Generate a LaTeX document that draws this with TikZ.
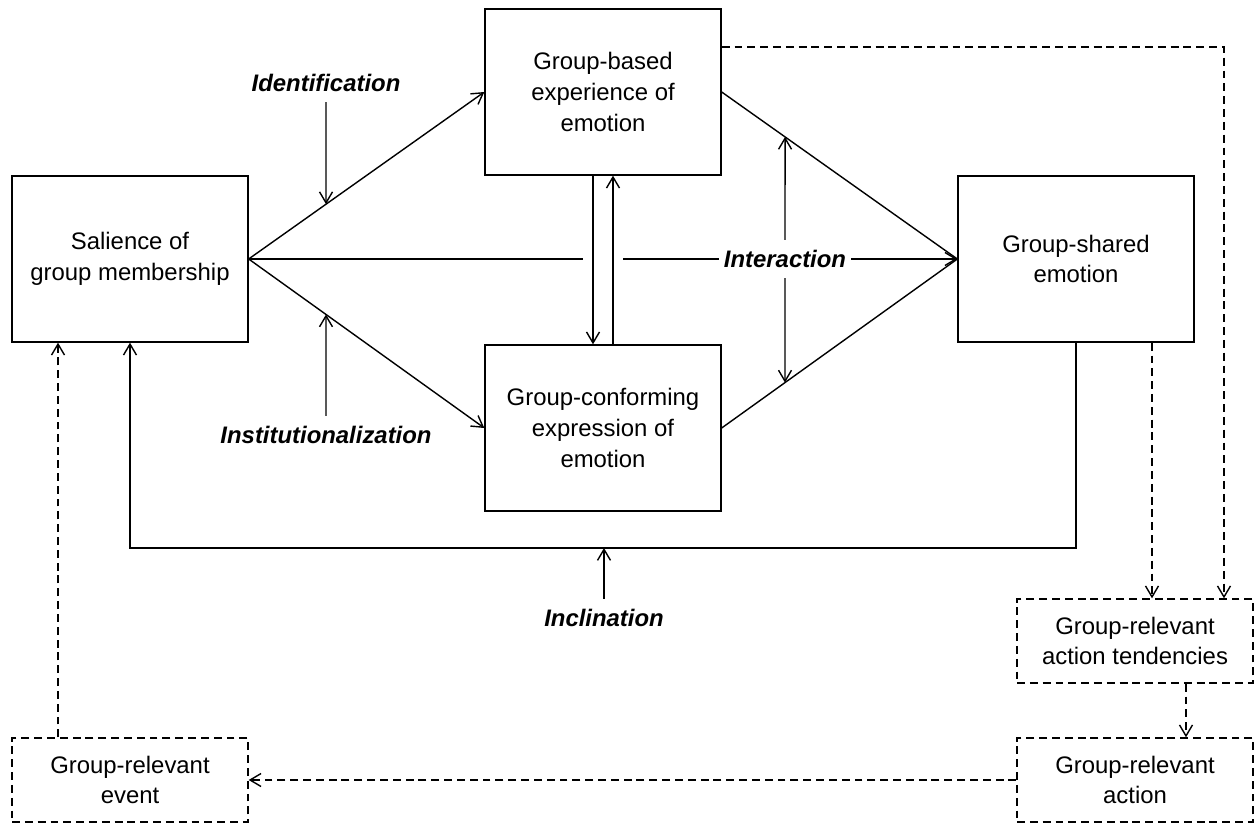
\documentclass[tikz,border=0pt]{standalone}
\usepackage{fontspec}
\setmainfont{Liberation Sans}
\usepackage{xcolor}
\usepackage{tikz}
\usetikzlibrary{calc,arrows.meta}
\definecolor{bg}{HTML}{FFFFFF}
\definecolor{ink}{HTML}{000000}
\tikzset{
  box/.style={draw=ink, line width=0.8pt, minimum width=4.72cm, minimum height=3.32cm, align=center, inner sep=0pt, font=\fontsize{13.6}{17.5}\selectfont},
  dbox/.style={draw=ink, dashed, dash pattern=on 4.5pt off 2.8pt, line width=0.8pt, minimum width=4.72cm, minimum height=1.68cm, align=center, inner sep=0pt, font=\fontsize{13.6}{17.5}\selectfont},
  lab/.style={text=ink, font=\fontsize{13.6}{17}\selectfont\bfseries\itshape, inner xsep=0.1cm, inner ysep=0.2cm},
  arr/.style={draw=ink, line width=0.8pt, -{Straight Barb[length=2.2mm,width=2.6mm]}},
  ln/.style={draw=ink, line width=0.8pt},
  darr/.style={draw=ink, line width=0.8pt, dash pattern=on 4.5pt off 2.8pt, -{Straight Barb[length=2.2mm,width=2.6mm]}},
}
\begin{document}
\begin{tikzpicture}[x=0.02cm, y=-0.02cm]
  \useasboundingbox[fill=bg] (0,0) rectangle (1257,824);

  % main boxes
  \node[box] (sal) at (130,259) {Salience of\\group membership};
  \node[box] (gb)  at (603,92)  {Group-based\\experience of\\emotion};
  \node[box] (gc)  at (603,428) {Group-conforming\\expression of\\emotion};
  \node[box] (gs)  at (1076,259) {Group-shared\\emotion};

  % dashed boxes
  \node[dbox] (tnd) at (1135,641) {Group-relevant\\action tendencies};
  \node[dbox] (act) at (1135,780) {Group-relevant\\action};
  \node[dbox] (ev)  at (130,780)  {Group-relevant\\event};

  % moderators
  \node[lab] (idlab) at (326,83)  {Identification};
  \node[lab] (inlab) at (326,435) {Institutionalization};
  \node[lab] (inter) at (785,259) {Interaction};
  \node[lab] (incl)  at (604,618) {Inclination};

  % salience to both routes
  \draw[arr] (sal.east) -- (gb.west);
  \draw[arr] (sal.east) -- (gc.west);
  \coordinate (gapL) at (583,259);
  \coordinate (gapR) at (623,259);
  \draw[ln] (sal.east) -- (gapL);
  \draw[ln] (gapR) -- (inter.west);
  \draw[arr] (inter.east) -- (gs.west);

  % between experience and expression
  \draw[arr] ([xshift=-0.2cm]gb.south) -- ([xshift=-0.2cm]gc.north);
  \draw[arr] ([xshift=0.2cm]gc.north) -- ([xshift=0.2cm]gb.south);

  % into shared emotion
  \draw[ln] (gb.east) -- (gs.west);
  \draw[ln] (gc.east) -- (gs.west);

  % moderator arrows
  \coordinate (idhit) at (intersection of sal.east--gb.west and idlab.south--idlab.north);
  \coordinate (inhit) at (intersection of sal.east--gc.west and inlab.south--inlab.north);
  \coordinate (uphit) at (intersection of gb.east--gs.west and inter.north--inter.south);
  \coordinate (dnhit) at (intersection of gc.east--gs.west and inter.north--inter.south);
  \draw[arr] (idlab.south) -- (idhit);
  \draw[arr] (inlab.north) -- (inhit);
  \draw[arr] (inter.north) -- (uphit);
  \draw[arr] (inter.south) -- (dnhit);

  % feedback loop
  \coordinate (fbL) at (130,548);
  \coordinate (fbR) at (gs.south |- fbL);
  \draw[arr] (gs.south) -- (fbR) -- (fbL) -- (sal.south);
  \draw[arr] (incl.north) -- (incl.north |- fbL);

  % dashed action path
  \draw[darr] ([xshift=1.52cm]gs.south) -- ([xshift=1.52cm]gs.south |- tnd.north);
  \draw[darr] ([yshift=0.9cm]gb.east) -| ([xshift=1.78cm]tnd.north);
  \draw[darr] ([xshift=1.02cm]tnd.south) -- ([xshift=1.02cm]act.north);
  \draw[darr] (act.west) -- (ev.east);
  \draw[darr] ([xshift=-1.44cm]ev.north) -- ([xshift=-1.44cm]sal.south);
\end{tikzpicture}
\end{document}
